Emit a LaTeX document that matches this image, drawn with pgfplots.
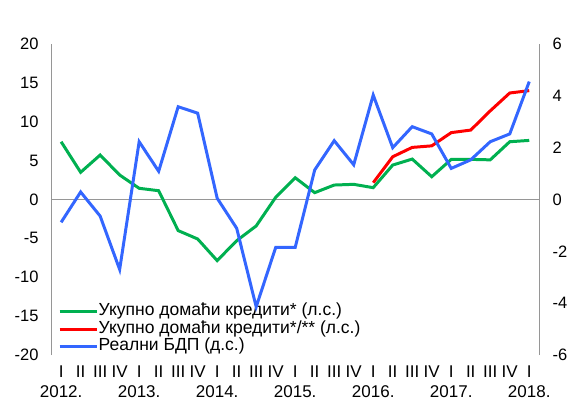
\documentclass[border=0pt]{standalone}
\usepackage{fontspec}
\setmainfont{Liberation Sans}
\usepackage{pgfplots}
\pgfplotsset{compat=1.18}
\definecolor{cgreen}{RGB}{0,176,80}
\definecolor{cred}{RGB}{255,0,0}
\definecolor{cblue}{RGB}{51,102,255}
\definecolor{caxis}{RGB}{150,150,150}
\begin{document}
\begin{tikzpicture}
\pgfplotsset{
  every axis/.append style={
    scale only axis, width=488bp, height=311bp,
    xmin=-0.52, xmax=24.5,
    font=\fontsize{16.5bp}{20bp}\selectfont,
    /pgf/number format/assume math mode=true,
    major tick length=0pt,
    axis line style={caxis, line width=1pt},
  },
}
\begin{axis}[
  name=ax,
  ymin=-20, ymax=20, ytick={-20,-15,...,20},
  axis y line*=left, axis x line=none,
  yticklabel style={xshift=-9bp},
  legend style={at={(rel axis cs:0.0,0.168)}, anchor=north west, xshift=7bp,
    draw=none, fill=none, font=\fontsize{17.5bp}{19bp}\selectfont,
    row sep=0pt, inner sep=0pt,
    nodes={inner sep=0.5bp, text height=12.5bp, text depth=4bp}},
  legend cell align=left,
  legend image code/.code={\draw[#1, line width=3pt] (0bp,0bp) -- (37bp,0bp);},
]
\addplot[caxis, line width=1pt, forget plot] coordinates {(-0.52,0) (24.5,0)};
\addplot[cgreen, line width=3pt] coordinates {
(0,7.43) (1,3.5) (2,5.72) (3,3.15) (4,1.44) (5,1.13) (6,-4.0) (7,-5.08)
(8,-7.86) (9,-5.3) (10,-3.4) (11,0.28) (12,2.8) (13,0.88) (14,1.86) (15,1.95)
(16,1.52) (17,4.43) (18,5.2) (19,2.93) (20,5.16) (21,5.16) (22,5.1) (23,7.43) (24,7.6)};
\addlegendentry{Укупно домаћи кредити* (л.с.)}
\addplot[cred, line width=3pt] coordinates {
(16,2.16) (17,5.5) (18,6.7) (19,6.9) (20,8.6) (21,8.93) (22,11.4) (23,13.7) (24,14.0)};
\addlegendentry{Укупно домаћи кредити*/** (л.с.)}
\addlegendimage{cblue, line width=3pt}
\addlegendentry{Реални БДП (д.с.)}
\end{axis}
\begin{axis}[
  ymin=-6, ymax=6, ytick={-6,-4,...,6},
  axis y line*=right, axis x line*=bottom,
  x axis line style={draw=none},
  yticklabel style={xshift=10bp},
  xtick={0,...,24},
  xticklabels={I\\2012.,II,III,IV,I\\2013.,II,III,IV,I\\2014.,II,III,IV,I\\2015.,II,III,IV,I\\2016.,II,III,IV,I\\2017.,II,III,IV,I\\2018.},
  xticklabel style={align=center, anchor=north, yshift=-7bp, font=\fontsize{17bp}{20bp}\selectfont},
]
\addplot[cblue, line width=3pt] coordinates {
(0,-0.88) (1,0.29) (2,-0.64) (3,-2.7) (4,2.23) (5,1.09) (6,3.58) (7,3.33)
(8,0.05) (9,-1.11) (10,-4.14) (11,-1.85) (12,-1.85) (13,1.14) (14,2.27) (15,1.34)
(16,4.03) (17,2.0) (18,2.81) (19,2.53) (20,1.2) (21,1.53) (22,2.23) (23,2.53) (24,4.55)};
\end{axis}
\pgfresetboundingbox
\path ([shift={(-51bp,-48bp)}]ax.south west) rectangle ([shift={(28bp,44bp)}]ax.north east);
\end{tikzpicture}
\end{document}
